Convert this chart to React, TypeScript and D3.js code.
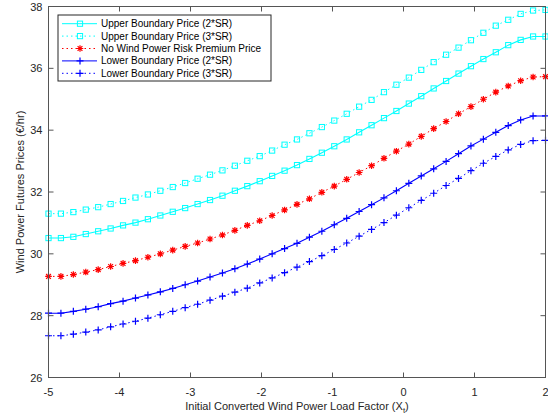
import * as d3 from 'd3';
import React from 'react';

// x values: -5 to 2, 41 points
const xs = d3.range(41).map(i => -5 + i * 0.175);

const upper2 = [30.51, 30.51, 30.55, 30.64, 30.73, 30.82, 30.92, 31.01, 31.12, 31.24, 31.36, 31.48, 31.61, 31.74, 31.88, 32.04, 32.19, 32.35, 32.52, 32.69, 32.87, 33.07, 33.27, 33.48, 33.70, 33.93, 34.16, 34.39, 34.62, 34.86, 35.10, 35.35, 35.59, 35.83, 36.07, 36.30, 36.52, 36.75, 36.92, 37.03, 37.03];
const upper3 = [31.30, 31.30, 31.35, 31.43, 31.51, 31.61, 31.71, 31.82, 31.92, 32.04, 32.16, 32.29, 32.43, 32.56, 32.70, 32.85, 33.01, 33.16, 33.34, 33.53, 33.70, 33.90, 34.10, 34.31, 34.53, 34.76, 34.98, 35.23, 35.47, 35.70, 35.95, 36.20, 36.44, 36.67, 36.91, 37.15, 37.38, 37.57, 37.76, 37.87, 37.89];
const noRisk = [29.27, 29.27, 29.33, 29.41, 29.49, 29.59, 29.69, 29.78, 29.89, 30.00, 30.12, 30.24, 30.35, 30.48, 30.61, 30.76, 30.92, 31.07, 31.24, 31.42, 31.60, 31.78, 31.99, 32.19, 32.41, 32.63, 32.85, 33.09, 33.32, 33.55, 33.80, 34.05, 34.28, 34.53, 34.76, 35.00, 35.23, 35.43, 35.60, 35.72, 35.73];
const lower2 = [28.08, 28.08, 28.14, 28.21, 28.29, 28.39, 28.47, 28.57, 28.67, 28.77, 28.88, 29.00, 29.12, 29.25, 29.38, 29.52, 29.67, 29.83, 30.00, 30.17, 30.34, 30.54, 30.73, 30.94, 31.15, 31.37, 31.59, 31.81, 32.04, 32.28, 32.52, 32.75, 32.99, 33.24, 33.49, 33.71, 33.93, 34.15, 34.33, 34.46, 34.46];
const lower3 = [27.35, 27.35, 27.40, 27.47, 27.54, 27.64, 27.73, 27.82, 27.92, 28.03, 28.14, 28.26, 28.37, 28.50, 28.63, 28.76, 28.89, 29.06, 29.22, 29.39, 29.57, 29.75, 29.94, 30.14, 30.35, 30.57, 30.79, 31.01, 31.25, 31.49, 31.73, 31.96, 32.21, 32.44, 32.69, 32.93, 33.15, 33.36, 33.54, 33.66, 33.67];

const xTicks = [-5, -4, -3, -2, -1, 0, 1, 2];
const yTicks = [26, 28, 30, 32, 34, 36, 38];

const series = [
  { name: 'Upper Boundary Price (2*SR)', values: upper2, color: '#00ffff', dash: null, marker: 'square' },
  { name: 'Upper Boundary Price (3*SR)', values: upper3, color: '#00ffff', dash: '1.5,3', marker: 'square' },
  { name: 'No Wind Power Risk Premium Price', values: noRisk, color: '#ff0000', dash: '1.5,3', marker: 'star' },
  { name: 'Lower Boundary Price (2*SR)', values: lower2, color: '#0000ff', dash: null, marker: 'plus' },
  { name: 'Lower Boundary Price (3*SR)', values: lower3, color: '#0000ff', dash: '1.5,3', marker: 'plus' },
];

const W = 548, H = 418;
const left = 48.5, right = 545.5, top = 6.5, bottom = 377.5;
const font = '"Liberation Sans", Arial, Helvetica, sans-serif';
const axisColor = '#555';

function Marker({ type, x, y, color }) {
  if (type === 'square') {
    return <rect x={x - 2.6} y={y - 2.6} width={5.2} height={5.2} fill="none" stroke={color} strokeWidth={1} />;
  }
  if (type === 'plus') {
    return <path d={`M${x - 3.5},${y}H${x + 3.5}M${x},${y - 3.5}V${y + 3.5}`} stroke={color} strokeWidth={1.2} />;
  }
  const r = 3.3, d = 2.4;
  return <path d={`M${x - r},${y}H${x + r}M${x},${y - r}V${y + r}M${x - d},${y - d}L${x + d},${y + d}M${x - d},${y + d}L${x + d},${y - d}`} stroke={color} strokeWidth={1.2} />;
}

export default function App() {
  const x = d3.scaleLinear().domain([-5, 2]).range([left, right]);
  const y = d3.scaleLinear().domain([26, 38]).range([bottom, top]);
  const line = d3.line<number>().x((_, i) => x(xs[i])).y(d => y(d));

  const legX = 58, legY = 15, legW = 213, legH = 66, rowH = 12.4;

  return (
    <svg width={W} height={H} style={{ position: 'fixed', left: 0, top: 0, background: '#fff' }} fontFamily={font}>
      <rect x={0} y={0} width={W} height={H} fill="#fff" />
      {series.map(s => (
        <g key={s.name}>
          <path d={line(s.values) || ''} fill="none" stroke={s.color} strokeWidth={s.dash ? 1 : 1.1} strokeDasharray={s.dash || undefined} />
          {s.values.map((v, i) => <Marker key={i} type={s.marker} x={x(xs[i])} y={y(v)} color={s.color} />)}
        </g>
      ))}
      {/* axes box */}
      <rect x={left} y={top} width={right - left} height={bottom - top} fill="none" stroke={axisColor} strokeWidth={1} />
      {xTicks.map(t => (
        <g key={'x' + t}>
          <line x1={x(t)} x2={x(t)} y1={bottom} y2={bottom - 5} stroke={axisColor} />
          <line x1={x(t)} x2={x(t)} y1={top} y2={top + 5} stroke={axisColor} />
          <text x={x(t)} y={bottom + 18} fontSize={11} textAnchor="middle" fill="#262626">{t}</text>
        </g>
      ))}
      {yTicks.map(t => (
        <g key={'y' + t}>
          <line x1={left} x2={left + 5} y1={y(t)} y2={y(t)} stroke={axisColor} />
          <line x1={right} x2={right - 5} y1={y(t)} y2={y(t)} stroke={axisColor} />
          <text x={left - 6} y={y(t) + 4} fontSize={11} textAnchor="end" fill="#262626">{t}</text>
        </g>
      ))}
      <text x={(left + right) / 2} y={410} fontSize={11} textAnchor="middle" fill="#262626">
        Initial Converted Wind Power Load Factor (X<tspan fontSize={8} dy={3}>t</tspan><tspan dy={-3}>)</tspan>
      </text>
      <text transform={`translate(24,${(top + bottom) / 2}) rotate(-90)`} fontSize={11} textAnchor="middle" fill="#262626">
        Wind Power Futures Prices (€/hr)
      </text>
      {/* legend */}
      <rect x={legX} y={legY} width={legW} height={legH} fill="#fff" stroke="#262626" strokeWidth={1} />
      {series.map((s, i) => {
        const ry = legY + 8.7 + i * rowH;
        return (
          <g key={'l' + i}>
            <line x1={62} x2={97} y1={ry} y2={ry} stroke={s.color} strokeWidth={1} strokeDasharray={s.dash || undefined} />
            <Marker type={s.marker} x={80} y={ry} color={s.color} />
            <text x={101} y={ry + 3.5} fontSize={10} fill="#000">{s.name}</text>
          </g>
        );
      })}
    </svg>
  );
}
